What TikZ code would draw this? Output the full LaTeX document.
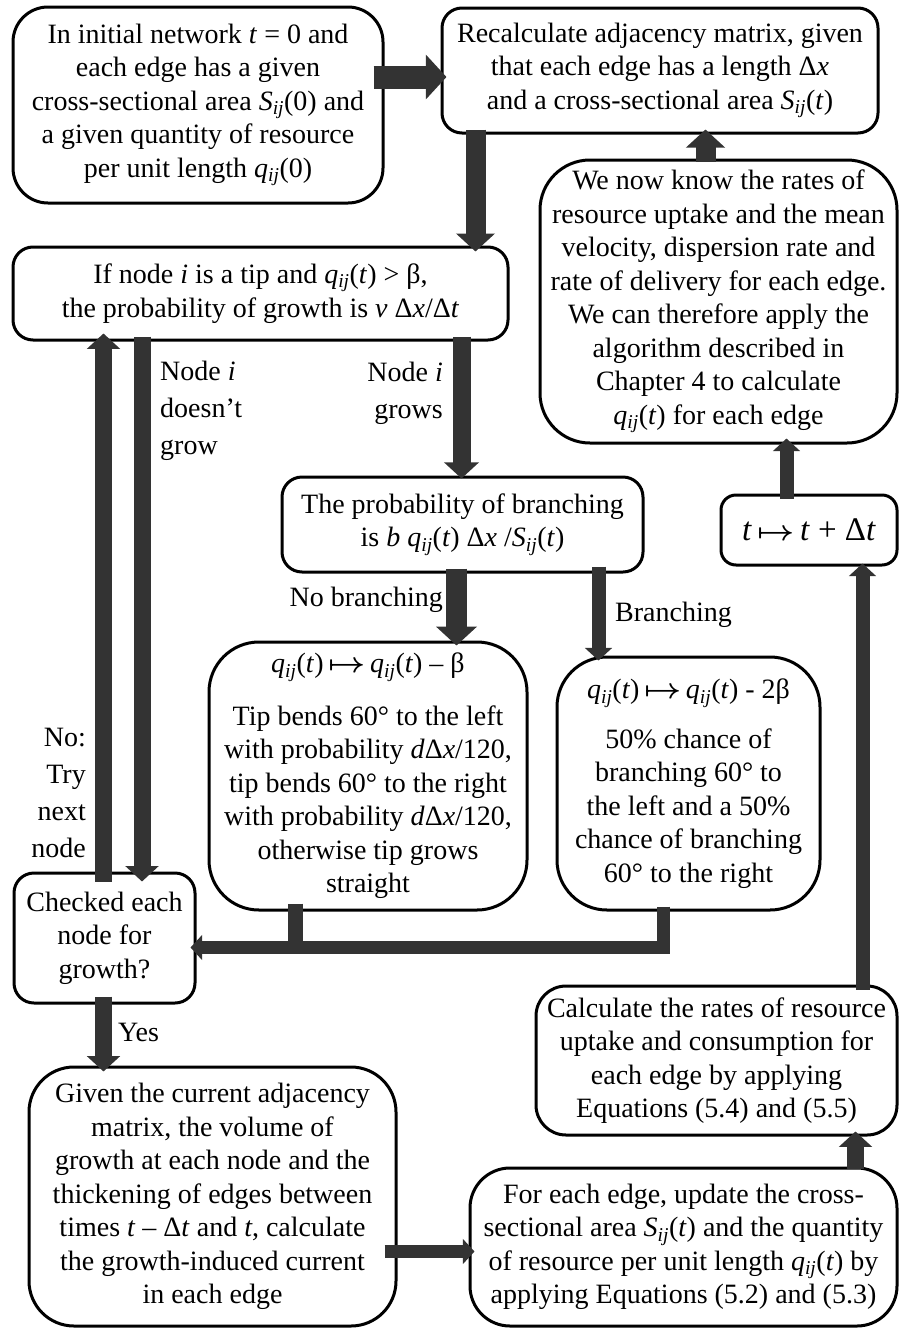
\documentclass[tikz,border=0pt]{standalone}
\usepackage{amsmath}
\usepackage{graphicx}
\usepackage{fontspec}
\setmainfont{Liberation Serif}
\usepackage{tikz}
\usetikzlibrary{calc,arrows.meta}
\definecolor{arrowgray}{HTML}{333333}
\newcommand{\arrowcolor}{arrowgray}
\newcommand{\boxthick}{3pt}
\newcommand{\qij}{\textit{q}\textsubscript{\textit{ij}}}
\newcommand{\Sij}{\textit{S}\textsubscript{\textit{ij}}}
\newcommand{\mto}{\,\scalebox{1.3}[1.15]{$\boldsymbol{\mapsto}$}\,}
\tikzset{
  box/.style={draw, line width=\boxthick, rounded corners=20pt, inner sep=0pt, align=center,
    font=\fontsize{28pt}{33.5pt}\selectfont},
  lbl/.style={inner sep=0pt, font=\fontsize{28pt}{37pt}\selectfont},
  flow/.style={draw=\arrowcolor, line width=#1, -{Triangle[length=0pt 0.9, width=0pt 1.9]}},
  bar/.style={draw=\arrowcolor, line width=#1},
}

\begin{document}
\begin{tikzpicture}[x=1pt,y=-1pt]
\useasboundingbox (0,0) rectangle (899,1328);
% boxes
\node[box, minimum width=370pt, minimum height=196pt, rounded corners=35pt] (init) at (198,105)
  {In initial network \textit{t} = 0 and\\each edge has a given\\cross-sectional area \Sij(0) and\\a given quantity of resource\\per unit length \qij(0)};
\node[box, minimum width=436pt, minimum height=125pt] (recalc) at (660,70.5)
  {Recalculate adjacency matrix, given\\that each edge has a length Δ\textit{x}\\and a cross-sectional area \Sij(\textit{t})};
\node[box, minimum width=495pt, minimum height=93pt] (ifnode) at (260.5,293.5)
  {If node \textit{i} is a tip and \qij(\textit{t}) > β,\\the probability of growth is \textit{v} Δ\textit{x}/Δ\textit{t}};
\node[box, minimum width=361pt, minimum height=95pt] (branchprob) at (462.5,524.5)
  {The probability of branching\\is \textit{b} \qij(\textit{t}) Δ\textit{x} /\Sij(\textit{t})};
\node[box, minimum width=318pt, minimum height=268pt, rounded corners=50pt] (nobranch) at (368,776)
  {\qij(\textit{t})\mto\qij(\textit{t}) – β\\[19pt]Tip bends 60° to the left\\with probability \textit{d}Δ\textit{x}/120,\\tip bends 60° to the right\\with probability \textit{d}Δ\textit{x}/120,\\otherwise tip grows\\straight};
\node[box, minimum width=263pt, minimum height=253pt, rounded corners=50pt] (branch) at (688.5,783.5)
  {\qij(\textit{t})\mto\qij(\textit{t}) - 2β\\[16pt]50\% chance of\\branching 60° to\\the left and a 50\%\\chance of branching\\60° to the right};
\node[box, minimum width=181pt, minimum height=130pt] (checked) at (104.5,938)
  {Checked each\\node for\\growth?};
\node[box, minimum width=367pt, minimum height=259pt, rounded corners=45pt] (given) at (212.5,1196.5)
  {Given the current adjacency\\matrix, the volume of\\growth at each node and the\\thickening of edges between\\times \textit{t} – Δ\textit{t} and \textit{t}, calculate\\the growth-induced current\\in each edge};
\node[box, minimum width=427pt, minimum height=158pt, rounded corners=40pt] (foreach) at (683.5,1247)
  {For each edge, update the cross-\\sectional area \Sij(\textit{t}) and the quantity\\of resource per unit length \qij(\textit{t}) by\\applying Equations (5.2) and (5.3)};
\node[box, minimum width=361pt, minimum height=149pt, rounded corners=30pt] (calcrates) at (716.5,1060.5)
  {Calculate the rates of resource\\uptake and consumption for\\each edge by applying\\Equations (5.4) and (5.5)};
\node[box, minimum width=357pt, minimum height=283pt, rounded corners=50pt] (weknow) at (718.5,301.5)
  {We now know the rates of\\resource uptake and the mean\\velocity, dispersion rate and\\rate of delivery for each edge.\\We can therefore apply the\\algorithm described in\\Chapter 4 to calculate\\\qij(\textit{t}) for each edge};
\node[box, minimum width=176pt, minimum height=70pt, rounded corners=15pt,
  font=\fontsize{33pt}{38pt}\selectfont] (tstep) at (809,530)
  {\textit{t}\mto\textit{t} + Δ\textit{t}};
% labels
\node[lbl, anchor=west, align=left] (nogrow) at (160,411) {Node \textit{i}\\doesn’t\\grow};
\node[lbl, anchor=east, align=right] (grows) at (443,393) {Node \textit{i}\\grows};
\node[lbl, anchor=east] (nobr) at (443,600) {No branching};
\node[lbl, anchor=west] (br) at (615,615) {Branching};
\node[lbl, anchor=east, align=right] (trynext) at (86,793) {No:\\Try\\next\\node};
\node[lbl, anchor=west] (yes) at (118,1032) {Yes};
% arrows
\draw[flow=23pt] ($(init.east)+(-11,-28)$) -- ($(recalc.west)+(6,6.5)$);
\draw[flow=20pt] ($(recalc.south west)+(35,-5)$) -- ($(recalc.south west |- ifnode.north)+(35,6)$);
\draw[flow=20pt] ($(weknow.north west)+(167,3)$) -- ($(weknow.north west |- recalc.south)+(167,-5)$);
\draw[flow=14pt] ($(tstep.north west)+(67,5)$) -- ($(tstep.north west |- weknow.south)+(67,-6)$);
\draw[flow=14pt] ($(calcrates.north west)+(328,5)$) -- ($(calcrates.north west |- tstep.south)+(328,-3)$);
\draw[flow=17pt] ($(foreach.north west)+(387,2)$) -- ($(foreach.north west |- calcrates.south)+(387,-5)$);
\draw[flow=13pt] ($(given.north east)+(-13,186)$) -- ($(given.north east -| foreach.west)+(6,186)$);
\draw[flow=17pt] ($(checked.south)+(-1,-8)$) -- ($(checked.south |- given.north)+(-1,6)$);
\draw[flow=18pt] ($(ifnode.south west)+(450,-5)$) -- ($(ifnode.south west |- branchprob.north)+(450,3)$);
\draw[flow=21pt] ($(branchprob.south west)+(176,-5)$) -- ($(branchprob.south west |- nobranch.north)+(176,5)$);
\draw[flow=14pt] ($(branchprob.south west)+(318,-7)$) -- ($(branchprob.south west |- branch.north)+(318,5)$);
\draw[flow=17pt] ($(ifnode.south west)+(130.5,-5)$) -- ($(ifnode.south west |- checked.north)+(130.5,10)$);
\draw[flow=17pt] ($(checked.north)+(-1,10)$) -- ($(checked.north |- ifnode.south)+(-1,-8)$);
\draw[bar=15pt] ($(nobranch.south west)+(87.5,-8)$) -- ($(nobranch.south west)+(87.5,37.5)$);
\draw[flow=13pt] ($(branch.south west)+(108,-5)$) |- ($(checked.east)+(-6,9.5)$);
\end{tikzpicture}
\end{document}
